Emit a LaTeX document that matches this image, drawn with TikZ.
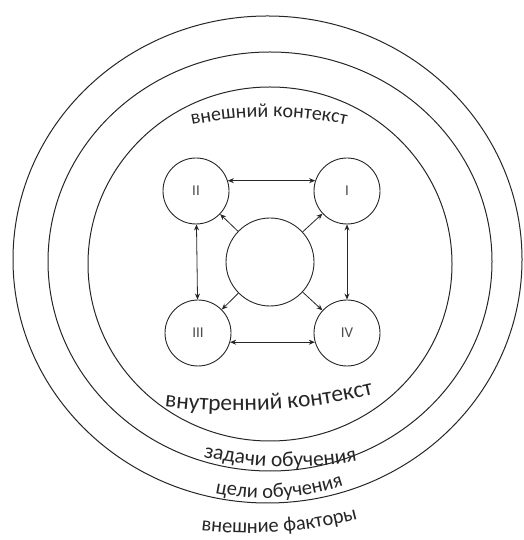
\documentclass[tikz,border=0pt]{standalone}
\usepackage{fontspec}
\setmainfont{Carlito}
\usetikzlibrary{arrows.meta,decorations.text}
\tikzset{
  ring/.style={draw=black!85, line width=1pt},
  numnode/.style={circle, draw=black!85, line width=0.9pt, minimum size=66pt, inner sep=0pt, font=\fontsize{15}{18}\selectfont, text=black!70},
  hubnode/.style={circle, draw=black!85, line width=0.9pt, minimum size=88pt, inner sep=0pt},
  arr/.style={-{Stealth[length=6pt,width=5pt]}, line width=0.8pt, draw=black!85},
  darr/.style={{Stealth[length=6pt,width=5pt]}-{Stealth[length=6pt,width=5pt]}, line width=0.8pt, draw=black!85},
  curvetext/.style={decorate, decoration={text along path, text align=center, text color=black!85}}
}
\begin{document}
\begin{tikzpicture}[x=1pt,y=1pt]
\useasboundingbox (0,0) rectangle (523,540);
% rings
\draw[ring] (267.5,280.5) ellipse [x radius=254.5, y radius=243.5];
\draw[ring] (270,278.5) ellipse [x radius=222, y radius=209.5];
\draw[ring] (270,276) ellipse [x radius=182, y radius=177];
% nodes
\node[numnode] (n2) at (196,349) {II};
\node[numnode] (n1) at (347,349) {I};
\node[numnode] (n3) at (198,207) {III};
\node[numnode] (n4) at (347,207) {IV};
\node[hubnode] (c) at (270,278) {};
% connectors
\draw[darr] (n2.18) -- (n1.162);
\draw[darr] (n3.-16) -- (n4.196);
\draw[darr] (n2) -- (n3);
\draw[darr] (n1) -- (n4);
\draw[arr] (c) -- (n2);
\draw[arr] (c) -- (n1);
\draw[arr] (c) -- (n3);
\draw[arr] (c) -- (n4);
% curved labels
\path[curvetext, decoration={text={|\fontsize{20}{24}\selectfont|внешний контекст}}]
  (269,43) ++(125:380) arc[start angle=125, end angle=55, radius=380];
\path[curvetext, decoration={text={|\fontsize{23.5}{28}\selectfont|внутренний контекст}}]
  (235,729) ++(-100.7:600) arc[start angle=-100.7, end angle=-72.7, radius=600];
\path[curvetext, decoration={text={|\fontsize{21.5}{25}\selectfont|задачи обучения}}]
  (290,453) ++(-111.5:380) arc[start angle=-111.5, end angle=-71.5, radius=380];
\path[curvetext, decoration={text={|\fontsize{20.5}{24}\selectfont|цели обучения}}]
  (265,292) ++(-110.1:250) arc[start angle=-110.1, end angle=-63.1, radius=250];
\path[curvetext, decoration={text={|\fontsize{20.5}{24}\selectfont|внешние факторы}}]
  (250,427) ++(-100.9:420) arc[start angle=-100.9, end angle=-70.9, radius=420];
\end{tikzpicture}
\end{document}
